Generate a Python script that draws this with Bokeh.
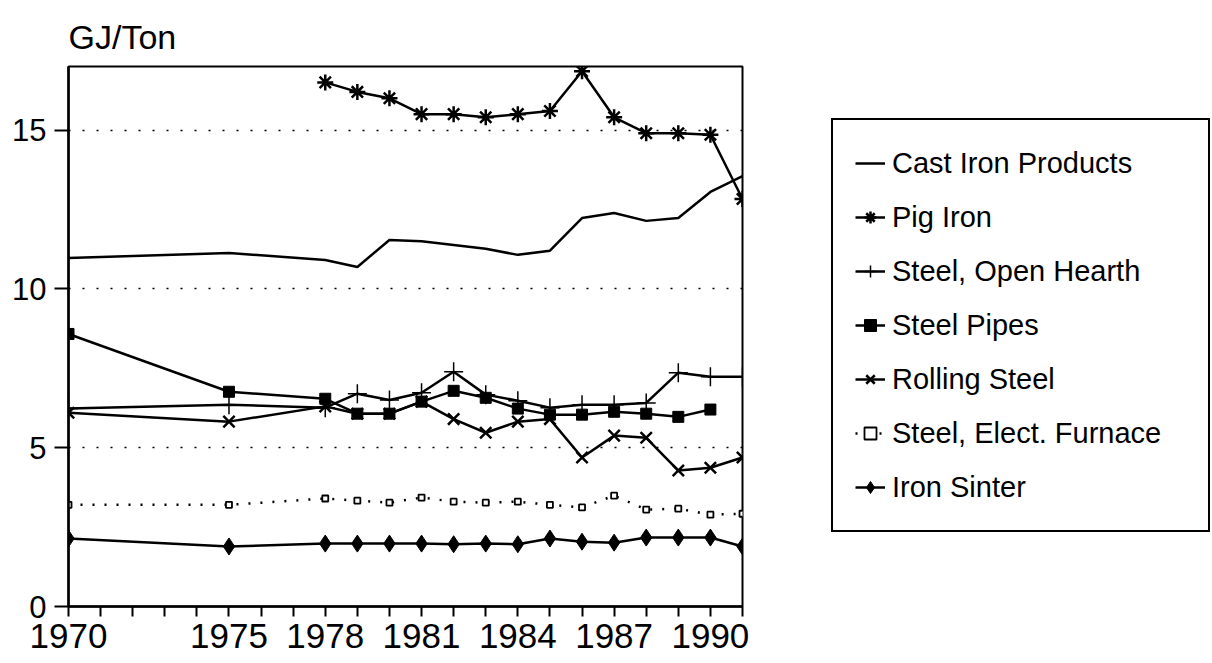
from bokeh.plotting import figure
from bokeh.models import Range1d, FixedTicker, Legend, LegendItem
from bokeh.embed import file_html
from bokeh.resources import INLINE

# ---- data ----
years = [1970, 1975, 1978, 1979, 1980, 1981, 1982, 1983, 1984, 1985,
         1986, 1987, 1988, 1989, 1990, 1991]
cast_iron = [10.97, 11.13, 10.91, 10.69, 11.54, 11.50, 11.38, 11.26, 11.07, 11.20,
             12.23, 12.39, 12.14, 12.23, 13.05, 13.55]

pig_years = [1978, 1979, 1980, 1981, 1982, 1983, 1984, 1985, 1986, 1987,
             1988, 1989, 1990, 1991]
pig_iron = [16.50, 16.20, 16.00, 15.50, 15.50, 15.40, 15.50, 15.60, 16.85, 15.40,
            14.90, 14.90, 14.85, 12.83]

open_hearth = [6.23, 6.35, 6.26, 6.70, 6.50, 6.73, 7.39, 6.67, 6.48, 6.26,
               6.35, 6.35, 6.41, 7.36, 7.23, 7.23]

pipe_years = [1970, 1975, 1978, 1979, 1980, 1981, 1982, 1983, 1984, 1985,
              1986, 1987, 1988, 1989, 1990]
steel_pipes = [8.58, 6.76, 6.54, 6.07, 6.07, 6.45, 6.79, 6.57, 6.23, 6.04,
               6.04, 6.13, 6.07, 5.97, 6.20]

rolling_steel = [6.10, 5.82, 6.30, 6.07, 6.07, 6.45, 5.90, 5.47, 5.82, 5.90,
                 4.69, 5.38, 5.31, 4.28, 4.37, 4.69]

elect_furnace = [3.20, 3.20, 3.40, 3.33, 3.27, 3.43, 3.30, 3.27, 3.30, 3.20,
                 3.12, 3.49, 3.05, 3.08, 2.89, 2.92]

iron_sinter = [2.14, 1.89, 1.98, 1.98, 1.98, 1.98, 1.96, 1.98, 1.96, 2.14,
               2.04, 2.01, 2.17, 2.17, 2.17, 1.89]

x_ticks = list(range(1970, 1992))
x_labels = [1970, 1975, 1978, 1981, 1984, 1987, 1990]
y_ticks = [0, 5, 10, 15]

FONT = "Liberation Sans"

p = figure(frame_width=674, frame_height=540,
           x_range=Range1d(1970, 1991), y_range=Range1d(0, 17),
           output_backend="svg", toolbar_location=None,
           min_border_left=68, min_border_right=466,
           min_border_top=66, min_border_bottom=57)

p.title.text = "GJ/Ton"
p.title.text_font = FONT
p.title.text_font_size = "34px"
p.title.text_font_style = "normal"
p.title.text_color = "black"
p.title.align = "left"
p.title.standoff = 22

p.outline_line_color = "black"
p.outline_line_width = 2
p.outline_line_alpha = 1

p.xgrid.grid_line_color = None
p.ygrid.ticker = FixedTicker(ticks=[5, 10, 15])
p.ygrid.grid_line_color = "black"
p.ygrid.grid_line_width = 1.5
p.ygrid.grid_line_dash = "2 12"

# x axis
p.xaxis.ticker = FixedTicker(ticks=x_ticks)
p.xaxis.major_label_overrides = {t: (str(t) if t in x_labels else "") for t in x_ticks}
p.xaxis.major_tick_out = 10
p.xaxis.major_tick_in = 0
p.xaxis.minor_tick_line_color = None
p.xaxis.major_tick_line_width = 2
p.xaxis.axis_line_width = 2.5
p.xaxis.axis_line_color = "black"
p.xaxis.major_tick_line_color = "black"
p.xaxis.major_label_text_font = FONT
p.xaxis.major_label_text_font_size = "35px"
p.xaxis.major_label_text_color = "black"
p.xaxis.major_label_standoff = 7

# y axis
p.yaxis.ticker = FixedTicker(ticks=y_ticks)
p.yaxis.major_tick_out = 14
p.yaxis.major_tick_in = 0
p.yaxis.minor_tick_line_color = None
p.yaxis.major_tick_line_width = 2
p.yaxis.axis_line_width = 2.5
p.yaxis.axis_line_color = "black"
p.yaxis.major_tick_line_color = "black"
p.yaxis.major_label_text_font = FONT
p.yaxis.major_label_text_font_size = "31px"
p.yaxis.major_label_text_color = "black"
p.yaxis.major_label_standoff = 8

K = "black"
LW = 2.5

r_cast = p.line(years, cast_iron, line_width=LW, color=K)

r_pig_l = p.line(pig_years, pig_iron, line_width=LW, color=K)
r_pig_m = p.scatter(pig_years, pig_iron, marker="asterisk", size=16, line_width=2.5, color=K)

r_oh_l = p.line(years, open_hearth, line_width=LW, color=K)
r_oh_m = p.scatter(years, open_hearth, marker="cross", size=19, line_width=1.5, color=K)

r_sp_l = p.line(pipe_years, steel_pipes, line_width=LW, color=K)
r_sp_m = p.scatter(pipe_years, steel_pipes, marker="square", size=11, color=K)

r_rs_l = p.line(years, rolling_steel, line_width=LW, color=K)
r_rs_m = p.scatter(years, rolling_steel, marker="x", size=16, line_width=2.5, color=K)

r_ef_l = p.line(years, elect_furnace, line_width=2.5, color=K, line_dash="2 10")
r_ef_m = p.scatter(years, elect_furnace, marker="square", size=6, line_width=1.8,
                   line_color=K, fill_color="white")

r_is_l = p.line(years, iron_sinter, line_width=LW, color=K)
r_is_m = p.scatter(years, iron_sinter, marker="diamond", size=17, color=K)

items = [
    LegendItem(label="Cast Iron Products", renderers=[r_cast]),
    LegendItem(label="Pig Iron", renderers=[r_pig_l, r_pig_m]),
    LegendItem(label="Steel, Open Hearth", renderers=[r_oh_l, r_oh_m]),
    LegendItem(label="Steel Pipes", renderers=[r_sp_l, r_sp_m]),
    LegendItem(label="Rolling Steel", renderers=[r_rs_l, r_rs_m]),
    LegendItem(label="Steel, Elect. Furnace", renderers=[r_ef_l, r_ef_m]),
    LegendItem(label="Iron Sinter", renderers=[r_is_l, r_is_m]),
]

legend = Legend(items=items, location=(89, 74),
                border_line_color="black", border_line_width=2, border_line_alpha=1,
                background_fill_color="white", background_fill_alpha=1,
                padding=22, spacing=12, margin=0,
                glyph_width=30, glyph_height=42,
                label_height=42, label_width=294, label_standoff=7,
                label_text_font=FONT, label_text_font_size="29px",
                label_text_color="black")
p.add_layout(legend, "right")

open("out.html", "w").write(file_html(p, INLINE))
